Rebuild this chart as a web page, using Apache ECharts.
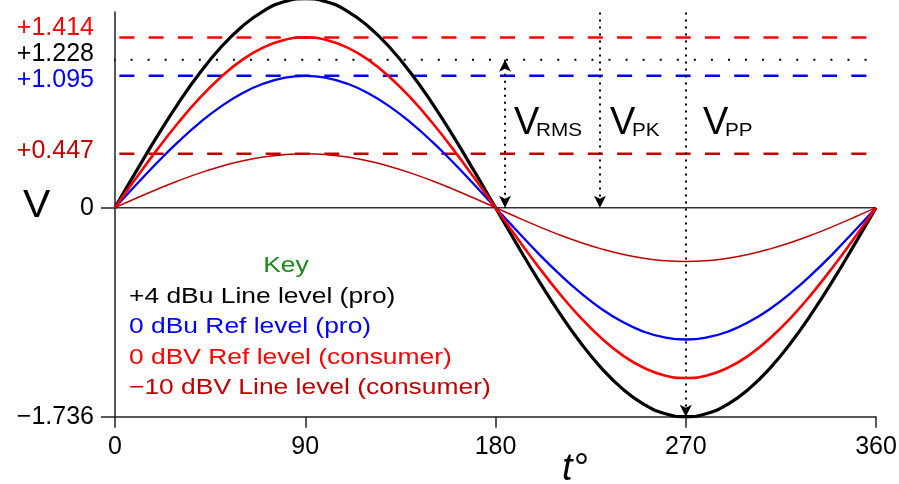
<!DOCTYPE html>
<html><head><meta charset="utf-8">
<script src="https://cdn.jsdelivr.net/npm/echarts@6/dist/echarts.min.js"></script>
<style>html,body{margin:0;padding:0;background:#fff}#c{width:899px;height:484px}</style>
</head><body><div id="c"></div>
<script>
// ---- data ----
const angles = [0,10,20,30,40,50,60,70,80,90,100,110,120,130,140,150,160,170,180,190,200,210,220,230,240,250,260,270,280,290,300,310,320,330,340,350,360];
const plus4dBu = [0,0.301,0.594,0.868,1.116,1.330,1.503,1.631,1.710,1.736,1.710,1.631,1.503,1.330,1.116,0.868,0.594,0.301,0,-0.301,-0.594,-0.868,-1.116,-1.330,-1.503,-1.631,-1.710,-1.736,-1.710,-1.631,-1.503,-1.330,-1.116,-0.868,-0.594,-0.301,0];
const zero_dBu = [0,0.190,0.375,0.548,0.704,0.839,0.948,1.029,1.078,1.095,1.078,1.029,0.948,0.839,0.704,0.548,0.375,0.190,0,-0.190,-0.375,-0.548,-0.704,-0.839,-0.948,-1.029,-1.078,-1.095,-1.078,-1.029,-0.948,-0.839,-0.704,-0.548,-0.375,-0.190,0];
const zero_dBV = [0,0.246,0.484,0.707,0.909,1.083,1.225,1.329,1.393,1.414,1.393,1.329,1.225,1.083,0.909,0.707,0.484,0.246,0,-0.246,-0.484,-0.707,-0.909,-1.083,-1.225,-1.329,-1.393,-1.414,-1.393,-1.329,-1.225,-1.083,-0.909,-0.707,-0.484,-0.246,0];
const minus10dBV = [0,0.078,0.153,0.224,0.287,0.342,0.387,0.420,0.440,0.447,0.440,0.420,0.387,0.342,0.287,0.224,0.153,0.078,0,-0.078,-0.153,-0.224,-0.287,-0.342,-0.387,-0.420,-0.440,-0.447,-0.440,-0.420,-0.387,-0.342,-0.287,-0.224,-0.153,-0.078,0];
const levelValues = [1.414, 1.228, 1.095, 0.447];
const levelLabels = ['+1.414', '+1.228', '+1.095', '+0.447'];
const yAxisTickValues = [0, -1.736];
const yAxisTickLabels = ['0', '\u22121.736'];
const xTickValues = [0, 90, 180, 270, 360];
const legendLabels = ['+4 dBu Line level (pro)', '0 dBu Ref level (pro)', '0 dBV Ref level (consumer)', '\u221210 dBV Line level (consumer)'];
const legendTitle = 'Key';

// ---- styles ----
const FONT = '"Liberation Sans", Arial, sans-serif';
const BLACK = '#000000', BLUE = '#0000ff', RED = '#ff0000', DARKRED = '#c00000', AXIS = '#222222';
const seriesColors = [BLACK, BLUE, RED, DARKRED];
const seriesWidths = [3.2, 2.3, 2.6, 1.5];
const levelColors = [RED, BLACK, BLUE, DARKRED];
const levelLabelNudge = [-9, -6, 4.6, -2.4];   // px, keeps the stacked labels apart
const LBL = 25;

const chart = echarts.init(document.getElementById('c'), null, {renderer: 'canvas'});

const curveData = [plus4dBu, zero_dBu, zero_dBV, minus10dBV];
const curveSeries = curveData.map((vals, k) => ({
  type: 'line', name: legendLabels[k],
  data: angles.map((a, i) => [a, vals[i]]),
  smooth: true, showSymbol: false, symbol: 'none', clip: false, silent: true,
  lineStyle: {color: seriesColors[k], width: seriesWidths[k]},
  z: 5 + k
}));

const levelSeries = levelValues.map((v, k) => {
  const dotted = (k === 1);
  const x0 = dotted ? -8.8 : -11.8;
  const x1 = dotted ? 363.8 : 365.6;
  return {
    type: 'line', data: [[x0, v], [x1, v]], showSymbol: false, symbol: 'none', clip: false, silent: true,
    lineStyle: {color: levelColors[k], width: dotted ? 2 : 2.5, type: dotted ? [2, 15.07] : [15, 14.28], cap: 'butt'},
    z: 3
  };
});

const zeroSeries = {
  type: 'line', data: [[0, 0], [360, 0]], showSymbol: false, symbol: 'none', clip: false, silent: true,
  lineStyle: {color: '#333', width: 1.5}, z: 4,
  markLine: {
    silent: true, symbolSize: [9, 12], animation: false,
    label: {show: false},
    lineStyle: {color: '#000', width: 2, type: [2, 5]},
    data: [
      [{coord: [184.5, 1.228], symbol: 'arrow'}, {coord: [184.5, 0], symbol: 'arrow'}],
      [{coord: [229.4, 1.62], symbol: 'none'}, {coord: [229.4, 0], symbol: 'arrow'}],
      [{coord: [270, 1.62], symbol: 'none'}, {coord: [270, -1.736], symbol: 'arrow'}]
    ]
  }
};

function gtext(text, x, y, size, color, opts) {
  opts = opts || {};
  return {
    type: 'text', x: x, y: y, scaleX: opts.sx || 1, silent: true, z: 20,
    style: {
      text: text, x: 0, y: 0, fill: color,
      font: (opts.italic ? 'italic ' : '') + size + 'px ' + FONT,
      align: opts.align || 'left', verticalAlign: 'middle'
    }
  };
}

const graphics = [
  gtext('V', 23, 206.5, 38, BLACK, {sx: 1.08}),
  gtext('t\u00b0', 562, 469, 38, BLACK, {italic: true}),
  gtext('V', 514, 124, 38, BLACK), gtext('RMS', 536, 131.5, 18, BLACK, {sx: 1.15}),
  gtext('V', 610, 124, 38, BLACK), gtext('PK', 632, 131.5, 18, BLACK, {sx: 1.15}),
  gtext('V', 703, 124, 38, BLACK), gtext('PP', 725, 131.5, 18, BLACK, {sx: 1.15}),
  gtext(legendTitle, 286, 266, 22, '#1a8a1a', {sx: 1.2, align: 'center'})
];
legendLabels.forEach((t, k) => {
  graphics.push(gtext(t, 129, 296.5 + k * 30.5, 22, seriesColors[k], {sx: 1.2}));
});

chart.setOption({
  animation: false,
  backgroundColor: '#ffffff',
  textStyle: {fontFamily: FONT},
  grid: {left: 115, right: 23, top: 12, bottom: 67.3, containLabel: false, outerBoundsMode: 'none'},
  xAxis: {
    type: 'value', min: 0, max: 360, interval: 90,
    axisLine: {show: true, onZero: false, lineStyle: {color: AXIS, width: 1.5}},
    axisTick: {show: true, inside: false, length: 11, lineStyle: {color: AXIS, width: 1.5}, customValues: xTickValues},
    axisLabel: {show: true, fontSize: 25, color: BLACK, margin: 18, fontFamily: FONT, hideOverlap: false,
      showMinLabel: true, showMaxLabel: true, customValues: xTickValues},
    splitLine: {show: false}
  },
  yAxis: {
    type: 'value', min: -1.736, max: 1.625,
    axisLine: {show: true, onZero: false, lineStyle: {color: AXIS, width: 1.5}},
    axisTick: {show: true, inside: false, length: 14, lineStyle: {color: AXIS, width: 1.5}, customValues: yAxisTickValues},
    axisLabel: {
      show: true, margin: 21, fontSize: LBL, fontFamily: FONT, color: BLACK, hideOverlap: false,
      showMinLabel: true, showMaxLabel: true,
      customValues: yAxisTickValues,
      formatter: function (val) {
        const i = yAxisTickValues.findIndex(v => Math.abs(v - val) < 1e-6);
        return i >= 0 ? yAxisTickLabels[i] : '';
      }
    },
    splitLine: {show: false}
  },
  series: levelSeries.concat([zeroSeries]).concat(curveSeries),
  graphic: graphics
});

// level value labels beside the axis, placed through the y scale
const levelLabelGraphics = levelValues.map((v, k) => {
  const py = chart.convertToPixel({yAxisIndex: 0}, v);
  return gtext(levelLabels[k], 94, py + levelLabelNudge[k], LBL, levelColors[k], {align: 'right'});
});
chart.setOption({graphic: graphics.concat(levelLabelGraphics)});
</script>
</body></html>
